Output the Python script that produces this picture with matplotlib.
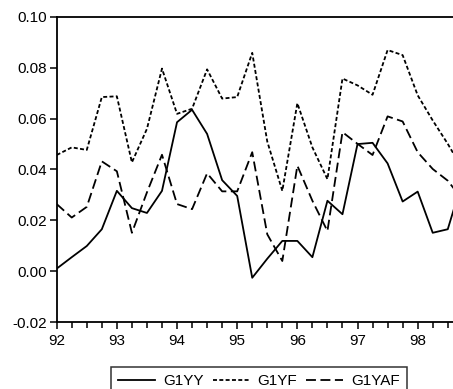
import numpy as np
import matplotlib
matplotlib.use("Agg")
import matplotlib.pyplot as plt
from matplotlib.ticker import MultipleLocator

plt.rcParams['font.family'] = ['Liberation Sans', 'DejaVu Sans']

# quarterly observations 1992Q1 .. 1998Q4
quarters = 92 + np.arange(28) / 4.0

g1yy = [0.001, 0.0055, 0.0099, 0.0165, 0.0316, 0.0248, 0.0229, 0.0316,
        0.0586, 0.0635, 0.054, 0.0358, 0.0296, -0.0026, 0.0049, 0.0119,
        0.0119, 0.0055, 0.0277, 0.0224, 0.050, 0.0505, 0.0424, 0.0274,
        0.0313, 0.0151, 0.0165, 0.036]
g1yf = [0.0457, 0.0487, 0.0477, 0.0685, 0.0688, 0.0428, 0.056, 0.0797,
        0.0619, 0.0639, 0.0794, 0.0679, 0.0685, 0.0859, 0.051, 0.0316,
        0.0661, 0.0487, 0.0362, 0.0758, 0.0731, 0.0694, 0.0870, 0.0850,
        0.0692, 0.0593, 0.0501, 0.040]
g1yaf = [0.0264, 0.0211, 0.0253, 0.0432, 0.0393, 0.0151, 0.031, 0.0458,
         0.0264, 0.0244, 0.0385, 0.0314, 0.0314, 0.0468, 0.0145, 0.0040,
         0.0415, 0.0277, 0.0158, 0.0547, 0.0501, 0.0457, 0.0609, 0.0589,
         0.0468, 0.0402, 0.0356, 0.028]

year_ticks = [92, 93, 94, 95, 96, 97, 98]
year_labels = ['92', '93', '94', '95', '96', '97', '98']
y_ticks = [-0.02, 0.00, 0.02, 0.04, 0.06, 0.08, 0.10]

W, H = 453, 389
fig = plt.figure(figsize=(W / 100, H / 100), dpi=100)
left_px, right_px, top_px, bot_px = 56.7, 462.8, 17.0, 322.0
ax = fig.add_axes([left_px / W, 1 - bot_px / H,
                   (right_px - left_px) / W, (bot_px - top_px) / H])

lw = 1.3
ax.plot(quarters, g1yy, color='black', lw=lw, linestyle='-', label='G1YY')
ax.plot(quarters, g1yf, color='black', lw=lw, linestyle=(0, (2.2, 1.3)), label='G1YF')
ax.plot(quarters, g1yaf, color='black', lw=lw, linestyle=(0, (5.5, 2.5)), label='G1YAF')

ax.set_xlim(92, 98.75)
ax.set_ylim(-0.02, 0.10)
ax.set_xticks(year_ticks)
ax.set_xticklabels(year_labels)
ax.xaxis.set_minor_locator(MultipleLocator(0.25))
ax.set_yticks(y_ticks)
ax.set_yticklabels(['%.2f' % v for v in y_ticks])

for s in ax.spines.values():
    s.set_linewidth(1.3)
ax.spines['right'].set_visible(False)

ax.tick_params(axis='both', which='major', direction='out', length=4.8, width=1.1,
               labelsize=11, colors='black', pad=2)
ax.tick_params(axis='x', which='major', pad=3.5)
ax.tick_params(axis='x', which='minor', direction='out', length=4.0, width=1.1)
ax.tick_params(axis='y', which='both', right=False)
ax.tick_params(axis='x', which='both', top=False)

leg = fig.legend(loc='upper center', bbox_to_anchor=(259 / W, 1 - 367 / H),
                 ncol=3, frameon=True, fancybox=False, fontsize=11,
                 handlelength=2.4, handletextpad=0.55, columnspacing=0.6,
                 borderpad=0.45, borderaxespad=0)
leg.get_frame().set_edgecolor('black')
leg.get_frame().set_linewidth(1.1)

fig.savefig('out.png', dpi=100)
